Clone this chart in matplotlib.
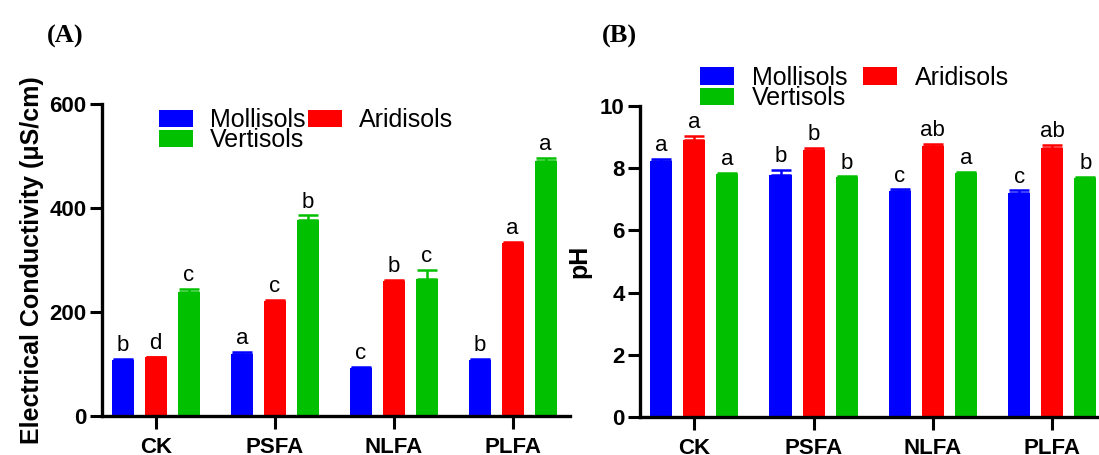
import numpy as np
import matplotlib
matplotlib.use('Agg')
import matplotlib.pyplot as plt

plt.rcParams['font.family'] = ['Liberation Sans', 'DejaVu Sans']

groups = ['CK', 'PSFA', 'NLFA', 'PLFA']
soils = ['Mollisols', 'Aridisols', 'Vertisols']
colors = ['#0000FF', '#FF0000', '#00C000']

# electrical conductivity (uS/cm), mean and upper error
ec_mollisols = [108, 119, 92, 108]
ec_aridisols = [113, 221, 260, 333]
ec_vertisols = [238, 377, 263, 490]
ec_err_mollisols = [2, 5, 2, 2]
ec_err_aridisols = [1, 3, 2, 2]
ec_err_vertisols = [6, 9, 18, 6]
ec_letters_mollisols = ['b', 'a', 'c', 'b']
ec_letters_aridisols = ['d', 'c', 'b', 'a']
ec_letters_vertisols = ['c', 'b', 'c', 'a']

# pH, mean and upper error
ph_mollisols = [8.23, 7.78, 7.27, 7.20]
ph_aridisols = [8.91, 8.59, 8.71, 8.65]
ph_vertisols = [7.82, 7.72, 7.86, 7.68]
ph_err_mollisols = [0.07, 0.16, 0.05, 0.09]
ph_err_aridisols = [0.12, 0.07, 0.08, 0.10]
ph_err_vertisols = [0.02, 0.02, 0.03, 0.04]
ph_letters_mollisols = ['a', 'b', 'c', 'c']
ph_letters_aridisols = ['a', 'b', 'ab', 'ab']
ph_letters_vertisols = ['a', 'b', 'a', 'b']

fig = plt.figure(figsize=(10.99, 4.55), dpi=100)
axA = fig.add_axes([0.0925, 0.0857, 0.4259, 0.6857])
axB = fig.add_axes([0.5823, 0.0835, 0.4273, 0.6835])

x = np.arange(len(groups))
width = 0.185
step = 0.277


def draw(ax, means, errs, letters, ylim, yticks):
    handles = []
    for i in range(3):
        xs = x + (i - 1) * step
        h = ax.bar(xs, means[i], width=width, color=colors[i], zorder=2)
        handles.append(h)
        ax.errorbar(xs, means[i], yerr=[np.zeros(4), errs[i]], fmt='none',
                    ecolor=colors[i], elinewidth=1.8, capsize=7, capthick=1.8, zorder=1)
        for xi, m, e, t in zip(xs, means[i], errs[i], letters[i]):
            ax.annotate(t, (xi, m + e), xytext=(0, 2), textcoords='offset points',
                        ha='center', va='bottom', fontsize=16)
    ax.set_ylim(*ylim)
    ax.set_yticks(yticks)
    ax.set_xlim(-0.455, 3.48)
    ax.set_xticks(x)
    ax.set_xticklabels(groups, fontweight='bold', fontsize=16)
    for lab in ax.get_yticklabels():
        lab.set_fontweight('bold')
        lab.set_fontsize(16)
    for s in ['top', 'right']:
        ax.spines[s].set_visible(False)
    for s in ['left', 'bottom']:
        ax.spines[s].set_linewidth(2.4)
    ax.tick_params(axis='y', length=9, width=2.2, pad=2)
    ax.tick_params(axis='x', length=9, width=2.2, pad=6)
    return handles


hA = draw(axA, [ec_mollisols, ec_aridisols, ec_vertisols],
          [ec_err_mollisols, ec_err_aridisols, ec_err_vertisols],
          [ec_letters_mollisols, ec_letters_aridisols, ec_letters_vertisols],
          (0, 600), [0, 200, 400, 600])
hB = draw(axB, [ph_mollisols, ph_aridisols, ph_vertisols],
          [ph_err_mollisols, ph_err_aridisols, ph_err_vertisols],
          [ph_letters_mollisols, ph_letters_aridisols, ph_letters_vertisols],
          (0, 10), [0, 2, 4, 6, 8, 10])

axA.set_ylabel('Electrical Conductivity (\u03bcS/cm)', fontweight='bold', fontsize=18, labelpad=4)
axB.set_ylabel('pH', fontweight='bold', fontsize=18, labelpad=6)

order = [0, 2, 1]
axA.legend([hA[i] for i in order], [soils[i] for i in order], ncol=2, frameon=False,
           fontsize=18, handlelength=1.36, handleheight=0.68, handletextpad=0.68,
           columnspacing=0.1, labelspacing=-0.15, borderpad=0, borderaxespad=0,
           loc='upper left', bbox_to_anchor=(57 / 468, 1 - 4 / 312))
axB.legend([hB[i] for i in order], [soils[i] for i in order], ncol=2, frameon=False,
           fontsize=18, handlelength=1.36, handleheight=0.68, handletextpad=0.72,
           columnspacing=0.62, labelspacing=-0.15, borderpad=0, borderaxespad=0,
           loc='lower left', bbox_to_anchor=(60 / 469, 1 - 4 / 311))

fig.text(47 / 1099, 1 - 43 / 455, '(A)', family='Liberation Serif', fontweight='bold', fontsize=19)
fig.text(602 / 1099, 1 - 43 / 455, '(B)', family='Liberation Serif', fontweight='bold', fontsize=19)

fig.savefig('out.png', dpi=100)
